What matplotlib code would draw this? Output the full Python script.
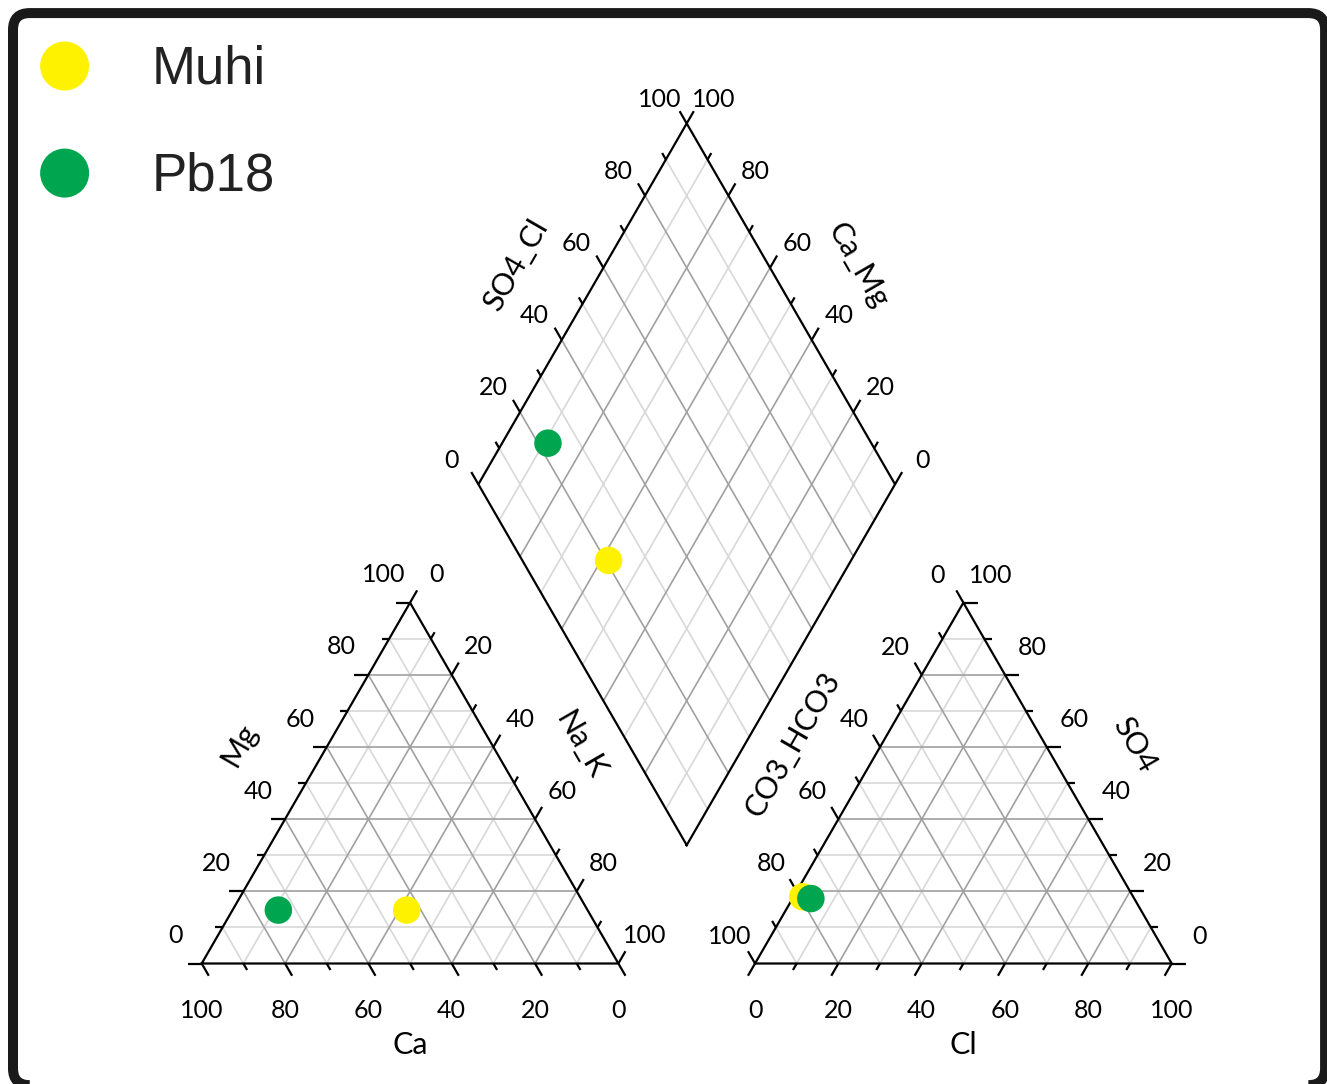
import numpy as np
import matplotlib
matplotlib.use("Agg")
import matplotlib.pyplot as plt
from matplotlib.patches import FancyBboxPatch

# samples and their milliequivalent percentages
samples = ["Muhi", "Pb18"]
colors = ["#FFF200", "#00A550"]

# cations (%)
ca = [43.4, 74.2]
mg = [14.8, 14.8]
na_k = [41.8, 11.0]

# anions (%)
hco3 = [79.3, 77.6]
so4 = [18.5, 18.0]
cl = [2.2, 4.4]

ticks = [0, 10, 20, 30, 40, 50, 60, 70, 80, 90, 100]

# layout (triangle side = 100 units)
H = np.sqrt(3) / 2
GAP = 32.8
OX = 100 + GAP  # anion triangle offset
B = np.array([100 + GAP / 2, GAP * H])
L = B + np.array([-50, 100 * H])
R = B + np.array([50, 100 * H])
T = B + np.array([0, 200 * H])
RB = R - B
BL = B - L

MAJOR = "#a0a0a0"
MINOR = "#d8d8d8"
TICKFONT = dict(family="Lato", size=18, color="black")
NAMEFONT = dict(family="Lato", size=22, color="black")

fig = plt.figure(figsize=(13.27, 10.84), dpi=100)
ax = fig.add_axes([0, 0, 1, 1])
ax.set_xlim(-48.41, 270.07)
ax.set_ylim(-28.92, 231.24)
ax.axis("off")


def line(p, q, **kw):
    ax.plot([p[0], q[0]], [p[1], q[1]], solid_capstyle="butt", **kw)


def grid_color(v):
    return MAJOR if v % 20 == 0 else MINOR


# triangle grids
for ox in [0, OX]:
    for v in ticks[1:-1]:
        c = grid_color(v)
        z = 2 if v % 20 == 0 else 1
        line((ox + v / 2, v * H), (ox + 100 - v / 2, v * H), color=c, lw=1.2, zorder=z)
        line((ox + v, 0), (ox + v + (100 - v) / 2, (100 - v) * H), color=c, lw=1.2, zorder=z)
        line((ox + v, 0), (ox + v / 2, v * H), color=c, lw=1.2, zorder=z)
    tri = np.array([(ox, 0), (ox + 100, 0), (ox + 50, 100 * H), (ox, 0)])
    ax.plot(tri[:, 0], tri[:, 1], color="black", lw=1.6, zorder=4)

# diamond grid
for v in ticks[1:-1]:
    c = grid_color(v)
    z = 2 if v % 20 == 0 else 1
    p = L + v / 100 * BL
    line(p, p + RB, color=c, lw=1.2, zorder=z)
    p = L + v / 100 * RB
    line(p, p + BL, color=c, lw=1.2, zorder=z)
dia = np.array([B, R, T, L, B])
ax.plot(dia[:, 0], dia[:, 1], color="black", lw=1.6, zorder=4)


def axis_ticks(points, direction, labels, offset):
    d = np.array(direction, dtype=float)
    d /= np.linalg.norm(d)
    for v, p, lab in zip(ticks, points, labels):
        ln = 3.4 if v % 20 == 0 else 1.8
        line(p, p + d * ln, color="black", lw=1.6, zorder=4)
        if v % 20 == 0:
            ax.text(p[0] + offset[0], p[1] + offset[1], str(lab),
                    ha="center", va="center", **TICKFONT)


def edge_name(mid, normal, text, rot):
    n = np.array(normal)
    ax.text(mid[0] + n[0] * 18.5, mid[1] + n[1] * 18.5, text,
            rotation=rot, ha="center", va="center", rotation_mode="anchor", **NAMEFONT)


# cation axes
axis_ticks([np.array([v / 2, v * H]) for v in ticks], (-1, 0), ticks, (-6.4, 6.7))
axis_ticks([np.array([100 - v, 0]) for v in ticks], (0.5, -H), ticks, (0, -11.2))
axis_ticks([np.array([50 + v / 2, (100 - v) * H]) for v in ticks], (0.5, H), ticks, (6.4, 6.7))
edge_name((25, 50 * H), (-H, 0.5), "Mg", 60)
edge_name((75, 50 * H), (H, 0.5), "Na_K", -60)
ax.text(50, -19.6, "Ca", ha="center", va="center", **NAMEFONT)

# anion axes
axis_ticks([np.array([OX + (100 - v) / 2, (100 - v) * H]) for v in ticks], (-0.5, H), ticks, (-6.2, 6.6))
axis_ticks([np.array([OX + 100 - v / 2, v * H]) for v in ticks], (1, 0), ticks, (6.6, 6.6))
axis_ticks([np.array([OX + v, 0]) for v in ticks], (-0.5, -H), ticks, (0, -11.2))
edge_name((OX + 25, 50 * H), (-H, 0.5), "CO3_HCO3", 60)
edge_name((OX + 75, 50 * H), (H, 0.5), "SO4", -60)
ax.text(OX + 50, -19.6, "Cl", ha="center", va="center", **NAMEFONT)

# diamond axes
axis_ticks([L + v / 100 * RB for v in ticks], (-0.5, H), ticks, (-6.5, 5.8))
axis_ticks([R + v / 100 * (T - R) for v in ticks], (0.5, H), ticks, (6.5, 5.8))
edge_name((L + T) / 2, (-H, 0.5), "SO4_Cl", 60)
edge_name((R + T) / 2, (H, 0.5), "Ca_Mg", -60)

# data points
for i, name in enumerate(samples):
    cx = na_k[i] + mg[i] / 2
    cy = mg[i] * H
    axx = OX + cl[i] + so4[i] / 2
    ay = so4[i] * H
    n = na_k[i] / 100
    s = (so4[i] + cl[i]) / 100
    dp = L + s * RB + n * BL
    ax.scatter([cx, axx, dp[0]], [cy, ay, dp[1]], s=392, color=colors[i],
               edgecolors="none", zorder=10)

# legend
for i, name in enumerate(samples):
    y = 215.4 - i * 25.7
    ax.scatter([-32.9], [y], s=1245, color=colors[i], edgecolors="none", zorder=10)
    ax.text(-11.9, y - 4.2, name, ha="left", va="baseline",
            family="Liberation Sans", size=38, color="#222222")

# rounded frame
frame = FancyBboxPatch((-45.29, -29.2), 314.9, 257.3,
                       boxstyle="round,pad=0,rounding_size=4",
                       fill=False, lw=7.2, edgecolor="#1a1a1a", zorder=20)
ax.add_patch(frame)

fig.savefig("out.png", dpi=100, facecolor="white")
